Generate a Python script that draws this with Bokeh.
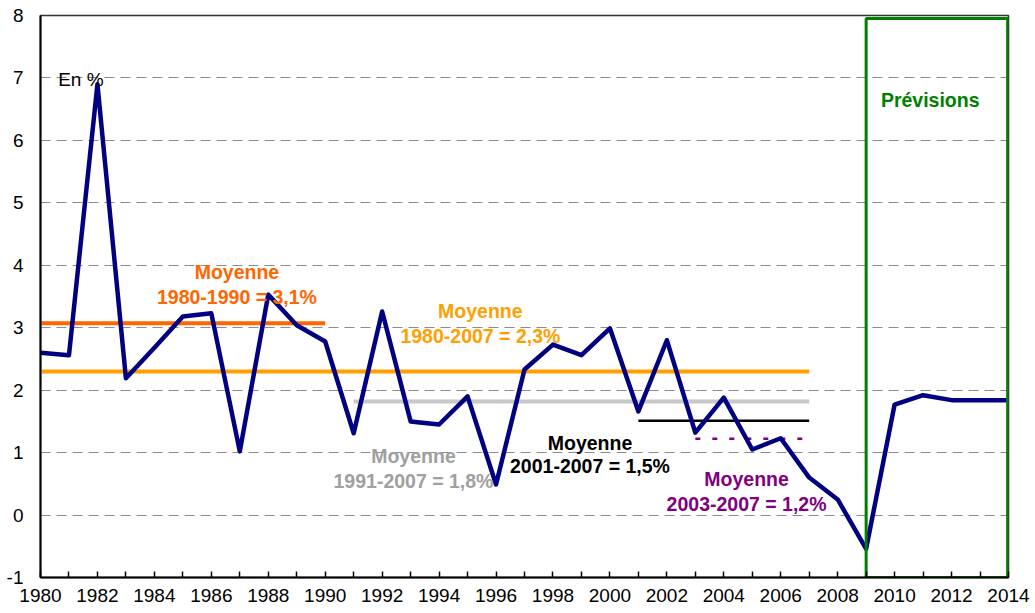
from bokeh.plotting import figure
from bokeh.models import Range1d, FixedTicker, ColumnDataSource
from bokeh.core.properties import value
from bokeh.embed import file_html
from bokeh.resources import INLINE

# ---- data ----
years = list(range(1980, 2015))
growth = [2.60, 2.56, 6.90, 2.19, 2.68, 3.18, 3.23, 1.02, 3.53, 3.04,
          2.78, 1.31, 3.26, 1.50, 1.45, 1.90, 0.49, 2.33, 2.73, 2.56,
          2.99, 1.66, 2.80, 1.32, 1.88, 1.05, 1.23, 0.60, 0.25, -0.54,
          1.77, 1.92, 1.84, 1.84, 1.84]

mean_start = [1980, 1980, 1991, 2001, 2003]
mean_end = [1990, 2007, 2007, 2007, 2007]
mean_value = [3.07, 2.30, 1.82, 1.51, 1.22]
mean_label_1 = ["Moyenne"] * 5
mean_label_2 = ["1980-1990 = 3,1%", "1980-2007 = 2,3%", "1991-2007 = 1,8%",
                "2001-2007 = 1,5%", "2003-2007 = 1,2%"]

forecast_start, forecast_end = 2009, 2014
y_ticks = list(range(-1, 9))
x_ticks = list(range(1980, 2015))

FONT = "Liberation Sans"

p = figure(width=1032, height=609, output_backend="svg", toolbar_location=None,
           x_range=Range1d(1980, 2014), y_range=Range1d(-1, 8),
           min_border_left=40, min_border_right=24, min_border_top=15,
           min_border_bottom=32)
p.background_fill_color = "white"
p.border_fill_color = "white"
p.outline_line_color = "#333333"
p.outline_line_width = 1.5

# grid
p.xgrid.grid_line_color = None
p.ygrid.ticker = FixedTicker(ticks=y_ticks)
p.ygrid.grid_line_color = "#8c8c8c"
p.ygrid.grid_line_dash = "10 6"
p.ygrid.grid_line_width = 1

# axes
p.yaxis.ticker = FixedTicker(ticks=y_ticks)
p.yaxis.major_label_overrides = {t: str(t) for t in y_ticks}
p.yaxis.axis_line_color = "black"
p.yaxis.axis_line_width = 2
p.yaxis.major_tick_line_color = None
p.yaxis.major_tick_out = 0
p.yaxis.major_tick_in = 0
p.yaxis.minor_tick_line_color = None
p.yaxis.minor_tick_out = 0
p.yaxis.major_label_text_font = FONT
p.yaxis.major_label_text_font_size = "19px"
p.yaxis.major_label_text_color = "black"
p.yaxis.major_label_standoff = 17

p.xaxis.ticker = FixedTicker(ticks=x_ticks)
p.xaxis.major_label_overrides = {y: (str(y) if y % 2 == 0 else "") for y in x_ticks}
p.xaxis.axis_line_color = "black"
p.xaxis.axis_line_width = 2
p.xaxis.major_tick_in = 6
p.xaxis.major_tick_out = 0
p.xaxis.major_tick_line_color = "black"
p.xaxis.major_tick_line_width = 1.5
p.xaxis.minor_tick_line_color = None
p.xaxis.minor_tick_out = 0
p.xaxis.major_label_text_font = FONT
p.xaxis.major_label_text_font_size = "19px"
p.xaxis.major_label_text_color = "black"
p.xaxis.major_label_standoff = 11

# mean lines
mean_colors = ["#FF6600", "#FFA000", "#C8C8C8", "#000000", "#800080"]
mean_widths = [4, 4, 4, 2.5, 2.5]
mean_dash = ["solid", "solid", "solid", "solid", "5 12"]
for s, e, v, c, w, d in zip(mean_start, mean_end, mean_value, mean_colors, mean_widths, mean_dash):
    p.line([s, e], [v, v], line_color=c, line_width=w, line_dash=d)

# main series
p.line(years, growth, line_color="#000080", line_width=4.5, line_join="round")

# forecast box
p.quad(left=[forecast_start], right=[forecast_end - 0.03], bottom=[-1], top=[7.95],
       fill_color=None, line_color="#008000", line_width=3)
p.text(x=[2011.25], y=[6.64], text=["Prévisions"], text_font=value(FONT),
       text_font_style="bold", text_font_size="19.5px", text_color="#008000",
       text_align="center", text_baseline="middle")

# mean labels
label_x = [1986.9, 1995.45, 1993.1, 1999.3, 2004.8]
label_y1 = [3.89, 3.26, 0.94, 1.16, 0.57]
label_y2 = [3.49, 2.86, 0.55, 0.78, 0.17]
label_colors = ["#FF6600", "#FFA000", "#A0A0A0", "#000000", "#800080"]
src = ColumnDataSource(dict(x=label_x, y1=label_y1, y2=label_y2,
                            t1=mean_label_1, t2=mean_label_2, c=label_colors))
for ycol, tcol in (("y1", "t1"), ("y2", "t2")):
    p.text(x="x", y=ycol, text=tcol, source=src, text_color="c",
           text_font=value(FONT), text_font_style="bold", text_font_size="19.5px",
           text_align="center", text_baseline="middle")

p.text(x=[1980.62], y=[6.98], text=["En %"], text_font=value(FONT),
       text_font_size="19px", text_color="black", text_align="left",
       text_baseline="middle")

open("out.html", "w").write(file_html(p, INLINE))
